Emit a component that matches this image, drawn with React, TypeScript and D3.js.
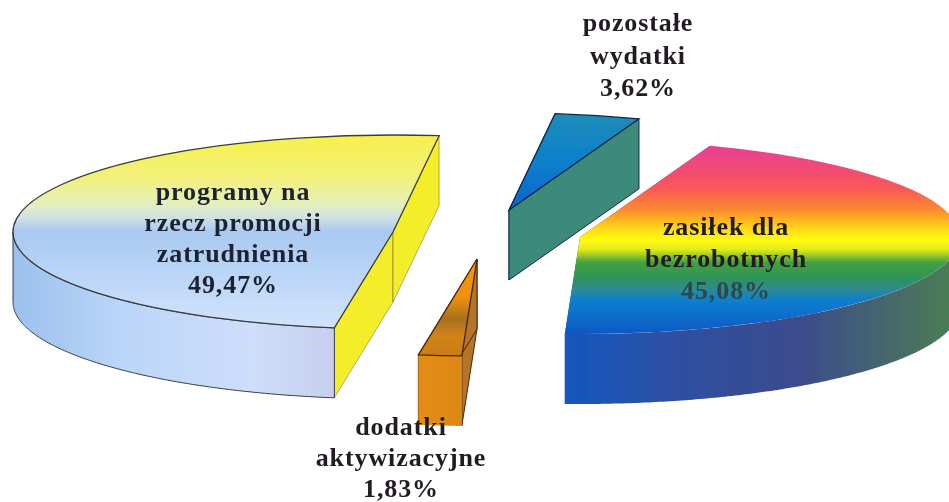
import React from "react";
import * as d3 from "d3";

const WIDTH = 949;
const HEIGHT = 502;

// chart data
const categories = ["zasilek", "dodatki", "programy", "pozostale"];
const shares = [45.08, 1.83, 49.47, 3.62];
const labelLines = [
  ["zasiłek dla", "bezrobotnych", "45,08%"],
  ["dodatki", "aktywizacyjne", "1,83%"],
  ["programy na", "rzecz promocji", "zatrudnienia", "49,47%"],
  ["pozostałe", "wydatki", "3,62%"],
];

// layout of the exploded pie
const RX = 380;
const RY = 97;
const DEPTH = 70;
const START = (20 * Math.PI) / 180;
const centers: Record<string, [number, number]> = {
  zasilek: [580, 237],
  dodatki: [477, 259],
  programy: [393, 232],
  pozostale: [509, 210],
};
const labelAt: Record<string, [number, number, number]> = {
  zasilek: [726, 235, 32],
  dodatki: [401, 435, 31],
  programy: [233, 200, 31],
  pozostale: [638, 31, 32.5],
};

const topStops: Record<string, [number, string][]> = {
  zasilek: [
    [0, "#e83f96"],
    [0.22, "#f8565a"],
    [0.34, "#fc8a30"],
    [0.44, "#ffd814"],
    [0.5, "#fffb10"],
    [0.55, "#e4ec18"],
    [0.62, "#44a040"],
    [0.7, "#2f9458"],
    [0.76, "#2f8a90"],
    [0.82, "#0c80d0"],
    [1, "#1058c4"],
  ],
  dodatki: [
    [0, "#f09a10"],
    [0.4, "#ee900e"],
    [0.62, "#a87020"],
    [0.8, "#d08418"],
    [1, "#c87c18"],
  ],
  programy: [
    [0, "#f8f04c"],
    [0.22, "#f2f07a"],
    [0.36, "#e4efbc"],
    [0.43, "#cfe0e4"],
    [0.5, "#a9c9f0"],
    [0.7, "#b8d4f6"],
    [1, "#d2e3fc"],
  ],
  pozostale: [
    [0, "#1e8cb8"],
    [0.5, "#0c80cc"],
    [1, "#0a62cc"],
  ],
};
const wallStops: Record<string, [number, string][]> = {
  zasilek: [
    [0, "#1458c0"],
    [0.25, "#2c50a4"],
    [0.6, "#3c4c8c"],
    [0.82, "#46686c"],
    [1, "#4a8050"],
  ],
  dodatki: [
    [0, "#e48c16"],
    [1, "#dc8818"],
  ],
  programy: [
    [0, "#9cc0ee"],
    [0.35, "#bcd6f8"],
    [0.75, "#cddefa"],
    [1, "#c6cfee"],
  ],
  pozostale: [
    [0, "#3a8a7c"],
    [1, "#3a8a7c"],
  ],
};
const sideFill: Record<string, string> = {
  zasilek: "#3e4a88",
  dodatki: "#b4742c",
  programy: "#f4ee2c",
  pozostale: "#3b8a7a",
};
const edgeColor: Record<string, string> = {
  zasilek: "none",
  dodatki: "#4a2408",
  programy: "#3a3a40",
  pozostale: "#0e2a48",
};

const pie = d3
  .pie<number>()
  .sort(null)
  .startAngle(START)
  .endAngle(START + 2 * Math.PI);

const arcTop = d3.arc<d3.PieArcDatum<number>>().innerRadius(0).outerRadius(RX);

export default function App() {
  const slices = pie(shares);

  return (
    <svg
      width={WIDTH}
      height={HEIGHT}
      style={{ position: "absolute", left: 0, top: 0, background: "#fff" }}
    >
      <defs>
        <filter id="scan" x="-5%" y="-5%" width="110%" height="110%">
          <feGaussianBlur stdDeviation="0.6" />
        </filter>
        {categories.map((c) => (
          <React.Fragment key={c}>
            <linearGradient id={`top-${c}`} x1="0" y1="0" x2="0" y2="1">
              {topStops[c].map(([o, col]) => (
                <stop key={o} offset={o} stopColor={col} />
              ))}
            </linearGradient>
            <linearGradient id={`wall-${c}`} x1="0" y1="0" x2="1" y2="0">
              {wallStops[c].map(([o, col]) => (
                <stop key={o} offset={o} stopColor={col} />
              ))}
            </linearGradient>
          </React.Fragment>
        ))}
      </defs>

      <g filter="url(#scan)">
        {slices.map((s, i) => {
          const c = categories[i];
          const [cx, cy] = centers[c];
          const px = (a: number) => cx + RX * Math.sin(a);
          const py = (a: number) => cy - RY * Math.cos(a);

          // outer wall is only seen on the front half of the ellipse
          const a0 = Math.max(s.startAngle, Math.PI / 2);
          const a1 = Math.min(s.endAngle, (3 * Math.PI) / 2);
          const wall =
            a1 > a0
              ? d3
                  .area<number>()
                  .x((a) => px(a))
                  .y0((a) => py(a))
                  .y1((a) => py(a) + DEPTH)([
                  ...d3.range(a0, a1, 0.01),
                  a1,
                ])
              : null;

          const side = (a: number) =>
            d3.line()([
              [cx, cy],
              [px(a), py(a)],
              [px(a), py(a) + DEPTH],
              [cx, cy + DEPTH],
            ]);

          return (
            <g key={c}>
              {[s.startAngle, s.endAngle].map((a) => (
                <path
                  key={a}
                  d={side(a) + "Z"}
                  fill={sideFill[c]}
                  stroke={edgeColor[c]}
                  strokeOpacity={c === "programy" ? 0.4 : 1}
                  strokeWidth={1}
                />
              ))}
              {wall && (
                <path
                  d={wall}
                  fill={`url(#wall-${c})`}
                  stroke={c === "dodatki" ? "none" : edgeColor[c]}
                  strokeWidth={1}
                />
              )}
              <path
                d={arcTop(s) as string}
                transform={`translate(${cx},${cy}) scale(1,${RY / RX})`}
                fill={`url(#top-${c})`}
                stroke={edgeColor[c]}
                strokeWidth={1.3}
                vectorEffect="non-scaling-stroke"
              />
            </g>
          );
        })}

        {slices.map((s, i) => {
          const c = categories[i];
          const [x, y, step] = labelAt[c];
          return (
            <text
              key={c}
              textAnchor="middle"
              fontFamily="'Liberation Serif', serif"
              fontWeight="bold"
              fontSize={26}
              letterSpacing={0.9}
              fill={c === "programy" ? "#1c2030" : "#201c24"}
            >
              {labelLines[i].map((line, j) => (
                <tspan
                  key={line}
                  x={x}
                  y={y + j * step}
                  fill={c === "zasilek" && j === 2 ? "#2c4a4c" : undefined}
                >
                  {line}
                </tspan>
              ))}
            </text>
          );
        })}
      </g>
    </svg>
  );
}
